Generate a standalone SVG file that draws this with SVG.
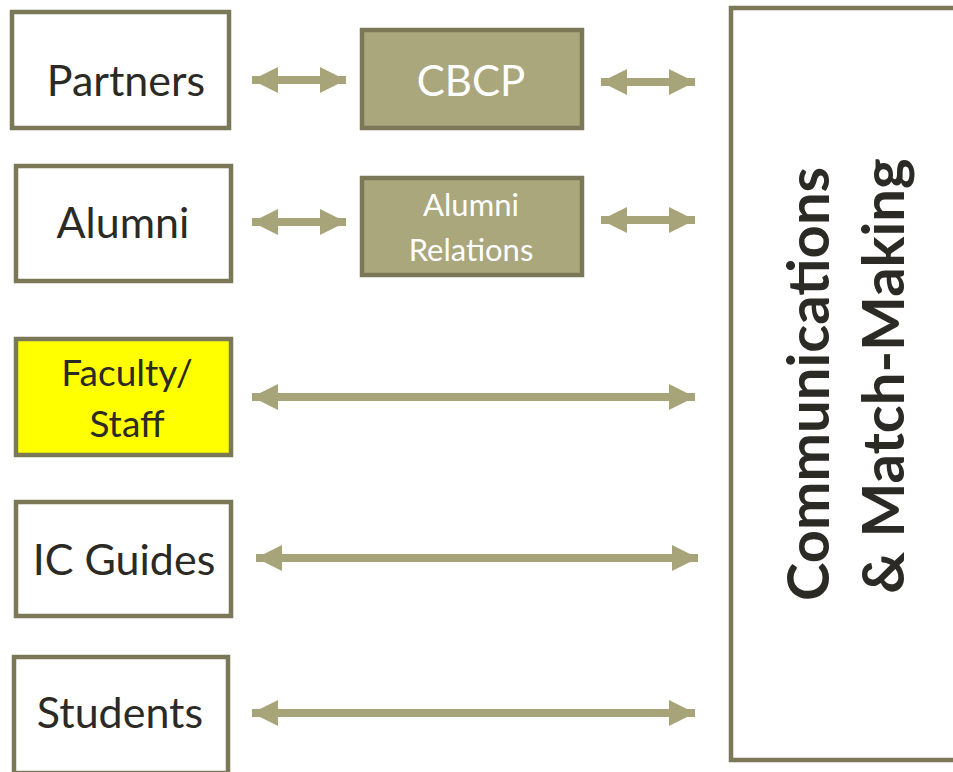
<svg xmlns="http://www.w3.org/2000/svg" width="953" height="772" viewBox="0 0 953 772">
<defs>
<style>
.box{fill:#ffffff;stroke:#7b7858;stroke-width:4.5}
.dark{fill:#aaa77d;stroke:#7b7858;stroke-width:4.5}
.yel{fill:#ffff00;stroke:#7b7858;stroke-width:4.5}
.lbl{font-family:Lato,"Open Sans","Liberation Sans",sans-serif;fill:#2b2a24;text-anchor:middle}
.wlbl{font-family:Lato,"Open Sans","Liberation Sans",sans-serif;fill:#ffffff;text-anchor:middle}
.big{font-family:Lato,"Open Sans","Liberation Sans",sans-serif;font-weight:bold;fill:#2b2a24;text-anchor:middle;font-size:58px}
.conn{stroke:#a8a47a;stroke-width:8;fill:none;marker-start:url(#ah);marker-end:url(#ah)}
</style>
<marker id="ah" markerUnits="userSpaceOnUse" markerWidth="26" markerHeight="26" refX="26" refY="13" orient="auto-start-reverse" viewBox="0 0 26 26">
<path d="M0,0 L26,13 L0,26 z" fill="#a8a47a"/>
</marker>
</defs>
<rect width="953" height="772" fill="#ffffff"/>
<g id="connectors">
<line class="conn" x1="252" y1="80" x2="346" y2="80"/>
<line class="conn" x1="601" y1="82" x2="695" y2="82"/>
<line class="conn" x1="252" y1="222" x2="346" y2="222"/>
<line class="conn" x1="601" y1="220" x2="695" y2="220"/>
<line class="conn" x1="252" y1="397" x2="695" y2="397"/>
<line class="conn" x1="256" y1="558" x2="698" y2="558"/>
<line class="conn" x1="252" y1="713" x2="695" y2="713"/>
</g>
<g id="partners">
<rect class="box" x="12" y="12" width="217" height="116"/>
<text class="lbl" x="126" y="96" font-size="43">Partners</text>
</g>
<g id="cbcp">
<rect class="dark" x="362" y="30" width="220" height="98"/>
<text class="wlbl" x="471" y="96" font-size="42">CBCP</text>
</g>
<g id="alumni">
<rect class="box" x="16" y="166" width="215" height="115"/>
<text class="lbl" x="123" y="238" font-size="43">Alumni</text>
</g>
<g id="alumni-relations">
<rect class="dark" x="362" y="178" width="220" height="97"/>
<text class="wlbl" x="471" y="216" font-size="31">Alumni</text>
<text class="wlbl" x="471" y="261" font-size="31">Relations</text>
</g>
<g id="faculty-staff">
<rect class="yel" x="16" y="339" width="215" height="116"/>
<text class="lbl" x="127" y="386" font-size="37">Faculty/</text>
<text class="lbl" x="127" y="437" font-size="37">Staff</text>
</g>
<g id="ic-guides">
<rect class="box" x="16" y="502" width="215" height="114"/>
<text class="lbl" x="124" y="575" font-size="43">IC Guides</text>
</g>
<g id="students">
<rect class="box" x="14" y="657" width="214" height="116"/>
<text class="lbl" x="120" y="728" font-size="43">Students</text>
</g>
<g id="communications">
<rect class="box" x="731" y="8" width="230" height="752"/>
<text class="big" transform="translate(829,384) rotate(-90)">Communications</text>
<text class="big" transform="translate(904,376) rotate(-90)">&amp; Match-Making</text>
</g>
</svg>
